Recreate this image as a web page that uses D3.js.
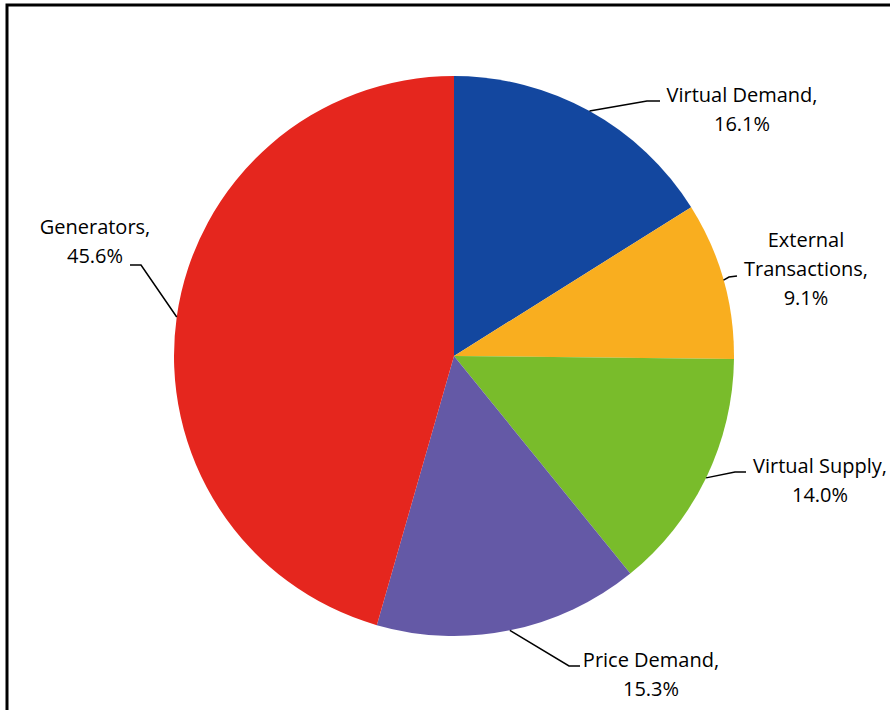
<!DOCTYPE html>
<html>
<head>
<meta charset="utf-8">
<script src="https://cdn.jsdelivr.net/npm/d3@7"></script>
<style>
  body { margin: 0; background: #fff; }
  svg { display: block; }
  text { font-family: "Open Sans", Lato, sans-serif; font-size: 20px; fill: #000; }
</style>
</head>
<body>
<svg width="890" height="710"></svg>
<script>
// slices, clockwise from 12 o'clock
const categories = ["Virtual Demand", "External Transactions", "Virtual Supply", "Price Demand", "Generators"];
const shares = [16.1, 9.1, 14.0, 15.3, 45.6];
const colors = ["#13479f", "#f9ae1f", "#79bc2b", "#6459a6", "#e5261e"];
// label lines as they appear in the chart
const labelLines = [
  ["Virtual Demand,", "16.1%"],
  ["External", "Transactions,", "9.1%"],
  ["Virtual Supply,", "14.0%"],
  ["Price Demand,", "15.3%"],
  ["Generators,", "45.6%"]
];

const data = categories.map((c, i) => ({name: c, value: shares[i], color: colors[i], lines: labelLines[i]}));

const svg = d3.select("svg");
// outer frame
svg.append("rect").attr("x", 7).attr("y", 5).attr("width", 900).attr("height", 720)
  .attr("fill", "none").attr("stroke", "#000").attr("stroke-width", 3);

const cx = 454, cy = 356, r = 280;
const g = svg.append("g").attr("transform", `translate(${cx},${cy})`);

const pie = d3.pie().value(d => d.value).sort(null);
const arc = d3.arc().innerRadius(0).outerRadius(r);
const arcs = pie(data);

g.selectAll("path").data(arcs).enter().append("path")
  .attr("d", arc).attr("fill", d => d.data.color);

// label placement: elbow point, line end, text anchor point (relative to page)
const labelPos = [
  {elbow: [647, 101], end: [660, 101], tx: 742, ty: 102},
  {elbow: [729, 277], end: [737, 276], tx: 806, ty: 247},
  {elbow: [735, 472], end: [746, 472], tx: 820, ty: 473},
  {elbow: [569, 666], end: [580, 666], tx: 651, ty: 667},
  {elbow: [141, 265], end: [130, 265], tx: 95, ty: 234}
];

const lineH = 29;
arcs.forEach((a, i) => {
  const mid = (a.startAngle + a.endAngle) / 2;
  const sx = cx + r * Math.sin(mid), sy = cy - r * Math.cos(mid);
  const p = labelPos[i];
  svg.append("polyline")
    .attr("points", [[sx, sy], p.elbow, p.end].map(q => q.join(",")).join(" "))
    .attr("fill", "none").attr("stroke", "#000").attr("stroke-width", 1.5);
  const t = svg.append("text").attr("text-anchor", "middle");
  a.data.lines.forEach((ln, j) => {
    t.append("tspan").attr("x", p.tx).attr("y", p.ty + j * lineH).text(ln);
  });
});
</script>
</body>
</html>
